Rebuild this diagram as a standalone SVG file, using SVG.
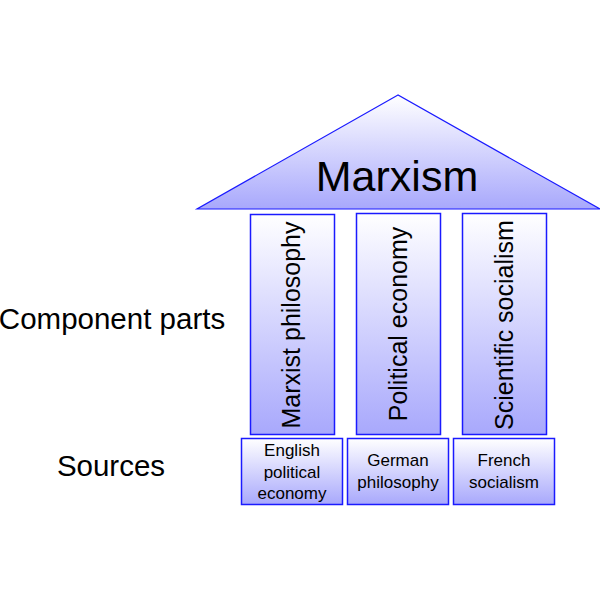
<svg xmlns="http://www.w3.org/2000/svg" width="600" height="600" viewBox="0 0 600 600">
<defs>
<linearGradient id="g" x1="0" y1="0" x2="0" y2="1">
<stop offset="0" stop-color="#ffffff"/>
<stop offset="1" stop-color="#a8a8fc"/>
</linearGradient>
<style>
.s{fill:url(#g);stroke:#1a1aff;stroke-width:1.5}
.t{font-family:"Liberation Sans",Arial,sans-serif;fill:#000;text-anchor:middle}
.lab{font-size:29.5px}
.col{font-size:25px}
.src{font-size:17px}
</style>
</defs>
<rect width="600" height="600" fill="#fff"/>
<g id="roof">
<polygon class="s" points="398,95 197,209 600,209" style="stroke-width:1.2"/>
<text class="t" x="397" y="191" font-size="43">Marxism</text>
</g>
<g id="col1">
<rect class="s" x="250.5" y="214.5" width="84" height="220"/>
<text class="t col" transform="translate(300,325) rotate(-90)">Marxist philosophy</text>
</g>
<g id="col2">
<rect class="s" x="356.5" y="213.5" width="84" height="221"/>
<text class="t col" transform="translate(407,324) rotate(-90)">Political economy</text>
</g>
<g id="col3">
<rect class="s" x="462.5" y="213.5" width="84" height="221"/>
<text class="t col" transform="translate(513,325) rotate(-90)">Scientific socialism</text>
</g>
<g id="src1">
<rect class="s" x="241.5" y="438.5" width="101" height="66"/>
<text class="t src" x="292" y="456">English</text>
<text class="t src" x="292" y="478">political</text>
<text class="t src" x="292" y="499">economy</text>
</g>
<g id="src2">
<rect class="s" x="347.5" y="438.5" width="101" height="66"/>
<text class="t src" x="398" y="466">German</text>
<text class="t src" x="398" y="488">philosophy</text>
</g>
<g id="src3">
<rect class="s" x="453.5" y="438.5" width="101" height="66"/>
<text class="t src" x="504" y="466">French</text>
<text class="t src" x="504" y="488">socialism</text>
</g>
<g id="labels">
<text class="t lab" x="112" y="329">Component parts</text>
<text class="t lab" x="111" y="476">Sources</text>
</g>
</svg>
